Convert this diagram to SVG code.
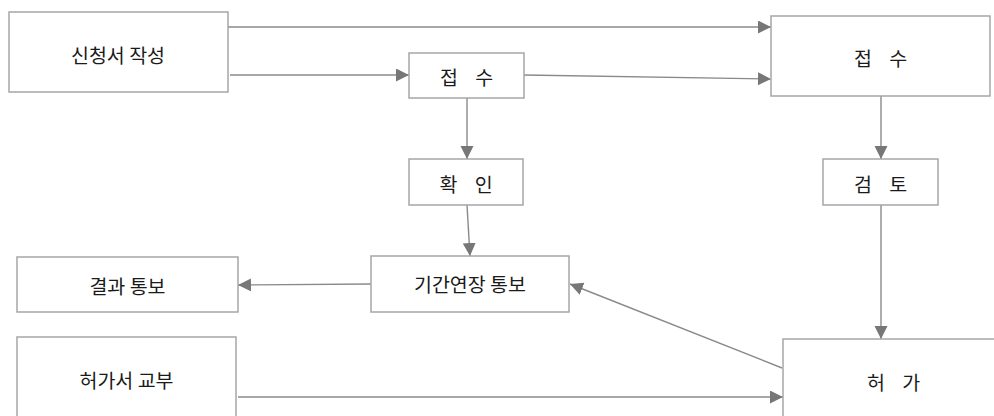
<svg xmlns="http://www.w3.org/2000/svg" width="994" height="416" viewBox="0 0 994 416">
<style>
.box{fill:#fff;stroke:#a6a6a6;stroke-width:1.5}
.lbl{font-family:"Noto Sans CJK KR","Noto Sans",sans-serif;font-size:19.5px;fill:#1a1a1a;text-anchor:middle;dominant-baseline:central}
.sp{word-spacing:13px}
.con{stroke:#8a8a8a;stroke-width:1.4;fill:none;marker-end:url(#ah)}
</style>
<defs>
<marker id="ah" markerUnits="userSpaceOnUse" markerWidth="14" markerHeight="14" refX="13" refY="6.5" orient="auto">
<path d="M0,0 L13,6.5 L0,13 z" fill="#777"/>
</marker>
</defs>
<rect width="994" height="416" fill="#fff"/>
<g id="connectors">
<line class="con" x1="228" y1="27" x2="771" y2="27"/>
<line class="con" x1="230" y1="75" x2="409" y2="75"/>
<line class="con" x1="524" y1="75" x2="771" y2="79"/>
<line class="con" x1="467" y1="98" x2="467" y2="159"/>
<line class="con" x1="881" y1="96" x2="881" y2="159"/>
<line class="con" x1="467" y1="205" x2="470" y2="256"/>
<line class="con" x1="881" y1="205" x2="881" y2="339"/>
<line class="con" x1="782" y1="368" x2="570" y2="284"/>
<line class="con" x1="371" y1="284" x2="238" y2="285"/>
<line class="con" x1="238" y1="397" x2="783" y2="397"/>
</g>
<g id="n-apply">
<rect class="box" x="9" y="12" width="219" height="80"/>
<text class="lbl" x="118" y="54">신청서 작성</text>
</g>
<g id="n-receive-small">
<rect class="box" x="409" y="53" width="115" height="45"/>
<text class="lbl sp" x="466.5" y="76">접 수</text>
</g>
<g id="n-receive-big">
<rect class="box" x="771" y="16" width="219" height="80"/>
<text class="lbl sp" x="880.5" y="57">접 수</text>
</g>
<g id="n-confirm">
<rect class="box" x="409" y="159" width="114" height="46"/>
<text class="lbl sp" x="466" y="183">확 인</text>
</g>
<g id="n-review">
<rect class="box" x="823" y="159" width="115" height="46"/>
<text class="lbl sp" x="880.5" y="183">검 토</text>
</g>
<g id="n-result">
<rect class="box" x="17" y="257" width="221" height="55"/>
<text class="lbl" x="127.5" y="285">결과 통보</text>
</g>
<g id="n-extend">
<rect class="box" x="371" y="256" width="198" height="56"/>
<text class="lbl" x="470" y="283">기간연장 통보</text>
</g>
<g id="n-issue">
<rect class="box" x="17" y="337" width="219" height="100"/>
<text class="lbl" x="126.5" y="379">허가서 교부</text>
</g>
<g id="n-permit">
<rect class="box" x="783" y="339" width="220" height="100"/>
<text class="lbl sp" x="893.5" y="381">허 가</text>
</g>
</svg>
